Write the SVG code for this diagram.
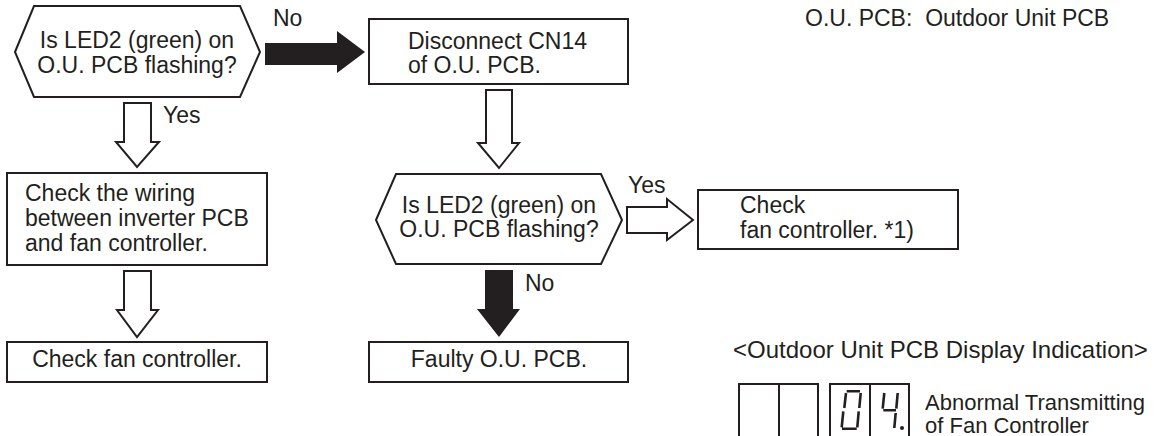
<svg xmlns="http://www.w3.org/2000/svg" width="1163" height="436" viewBox="0 0 1163 436">
<style>
.shape{fill:#fff;stroke:#231f20;stroke-width:2}
.hollow{fill:#fff;stroke:#231f20;stroke-width:2;stroke-linejoin:miter}
.solid{fill:#231f20;stroke:none}
text{font-family:"Liberation Sans",Arial,sans-serif;font-size:23px;fill:#231f20}
.mid{text-anchor:middle}
.title{font-size:24px}
.small{font-size:22px}
.seg{stroke:#231f20;stroke-width:2.6;stroke-linecap:butt;fill:none}
</style>
<rect width="1163" height="436" fill="#fff"/>
<g id="connectors">
  <path class="solid" d="M265,43 H337 V31 L365,52 L337,73 V65 H265 Z"/>
  <text x="273" y="26">No</text>
  <path class="hollow" d="M124,103 H151 V142 H159 L137,167 L116,142 H124 Z"/>
  <text x="163" y="123">Yes</text>
  <path class="hollow" d="M124,271 H151 V310 H158 L137,337 L117,310 H124 Z"/>
  <path class="hollow" d="M486,90 H512 V143 H519 L499,168 L478,143 H486 Z"/>
  <path class="hollow" d="M627,207 H667 V199 L693,220 L667,240 V233 H627 Z"/>
  <text x="628" y="193">Yes</text>
  <path class="solid" d="M485,270 H513 V309 H520 L499,337 L477,309 H485 Z"/>
  <text x="525" y="291">No</text>
</g>
<g id="q1">
  <polygon class="shape" points="15,52 34,6 240,6 260,52 240,97 34,97"/>
  <text class="mid" x="137" y="48">Is LED2 (green) on</text>
  <text class="mid" x="137" y="73">O.U. PCB flashing?</text>
</g>
<g id="disconnect">
  <rect class="shape" x="369" y="19" width="259" height="65"/>
  <text x="408" y="49">Disconnect CN14</text>
  <text x="408" y="73">of O.U. PCB.</text>
</g>
<g id="q2">
  <polygon class="shape" points="376,220 396,174 601,174 622,220 601,264 396,264"/>
  <text class="mid" x="499" y="213">Is LED2 (green) on</text>
  <text class="mid" x="499" y="237">O.U. PCB flashing?</text>
</g>
<g id="checkfan1">
  <rect class="shape" x="698" y="190" width="260" height="59"/>
  <text x="740" y="213">Check</text>
  <text x="740" y="238">fan controller. *1)</text>
</g>
<g id="wiring">
  <rect class="shape" x="7" y="173" width="260" height="92"/>
  <text x="25" y="201">Check the wiring</text>
  <text x="25" y="226">between inverter PCB</text>
  <text x="25" y="251">and fan controller.</text>
</g>
<g id="checkfan2">
  <rect class="shape" x="7" y="342" width="260" height="40"/>
  <text class="mid" x="137" y="367">Check fan controller.</text>
</g>
<g id="faulty">
  <rect class="shape" x="369" y="342" width="259" height="40"/>
  <text class="mid" x="499" y="367">Faulty O.U. PCB.</text>
</g>
<g id="legend">
  <text x="805" y="26">O.U. PCB:&#160; Outdoor Unit PCB</text>
</g>
<g id="display">
  <text class="title" x="733" y="358">&lt;Outdoor Unit PCB Display Indication&gt;</text>
  <rect class="shape" x="739" y="384" width="40" height="60"/>
  <rect class="shape" x="779" y="384" width="39" height="60"/>
  <rect class="shape" x="830" y="384" width="40" height="60"/>
  <rect class="shape" x="870" y="384" width="39" height="60"/>
  <path class="seg" d="M846.7,391.3 H860 M846,393 L844.3,408 M860.7,393 L859.3,408 M843.3,411.3 L841.7,427.3 M858.7,411.3 L857.3,427.3 M842,428.7 H856.7"/>
  <path class="seg" d="M884.3,393 L882.7,408.7 M897.7,393 L896.3,408.7 M883.3,410.3 H896 M895.7,413 L894.3,428"/>
  <circle cx="902" cy="428" r="2" fill="#231f20"/>
  <text class="small" x="925" y="410">Abnormal Transmitting</text>
  <text class="small" x="925" y="433">of Fan Controller</text>
</g>
</svg>
